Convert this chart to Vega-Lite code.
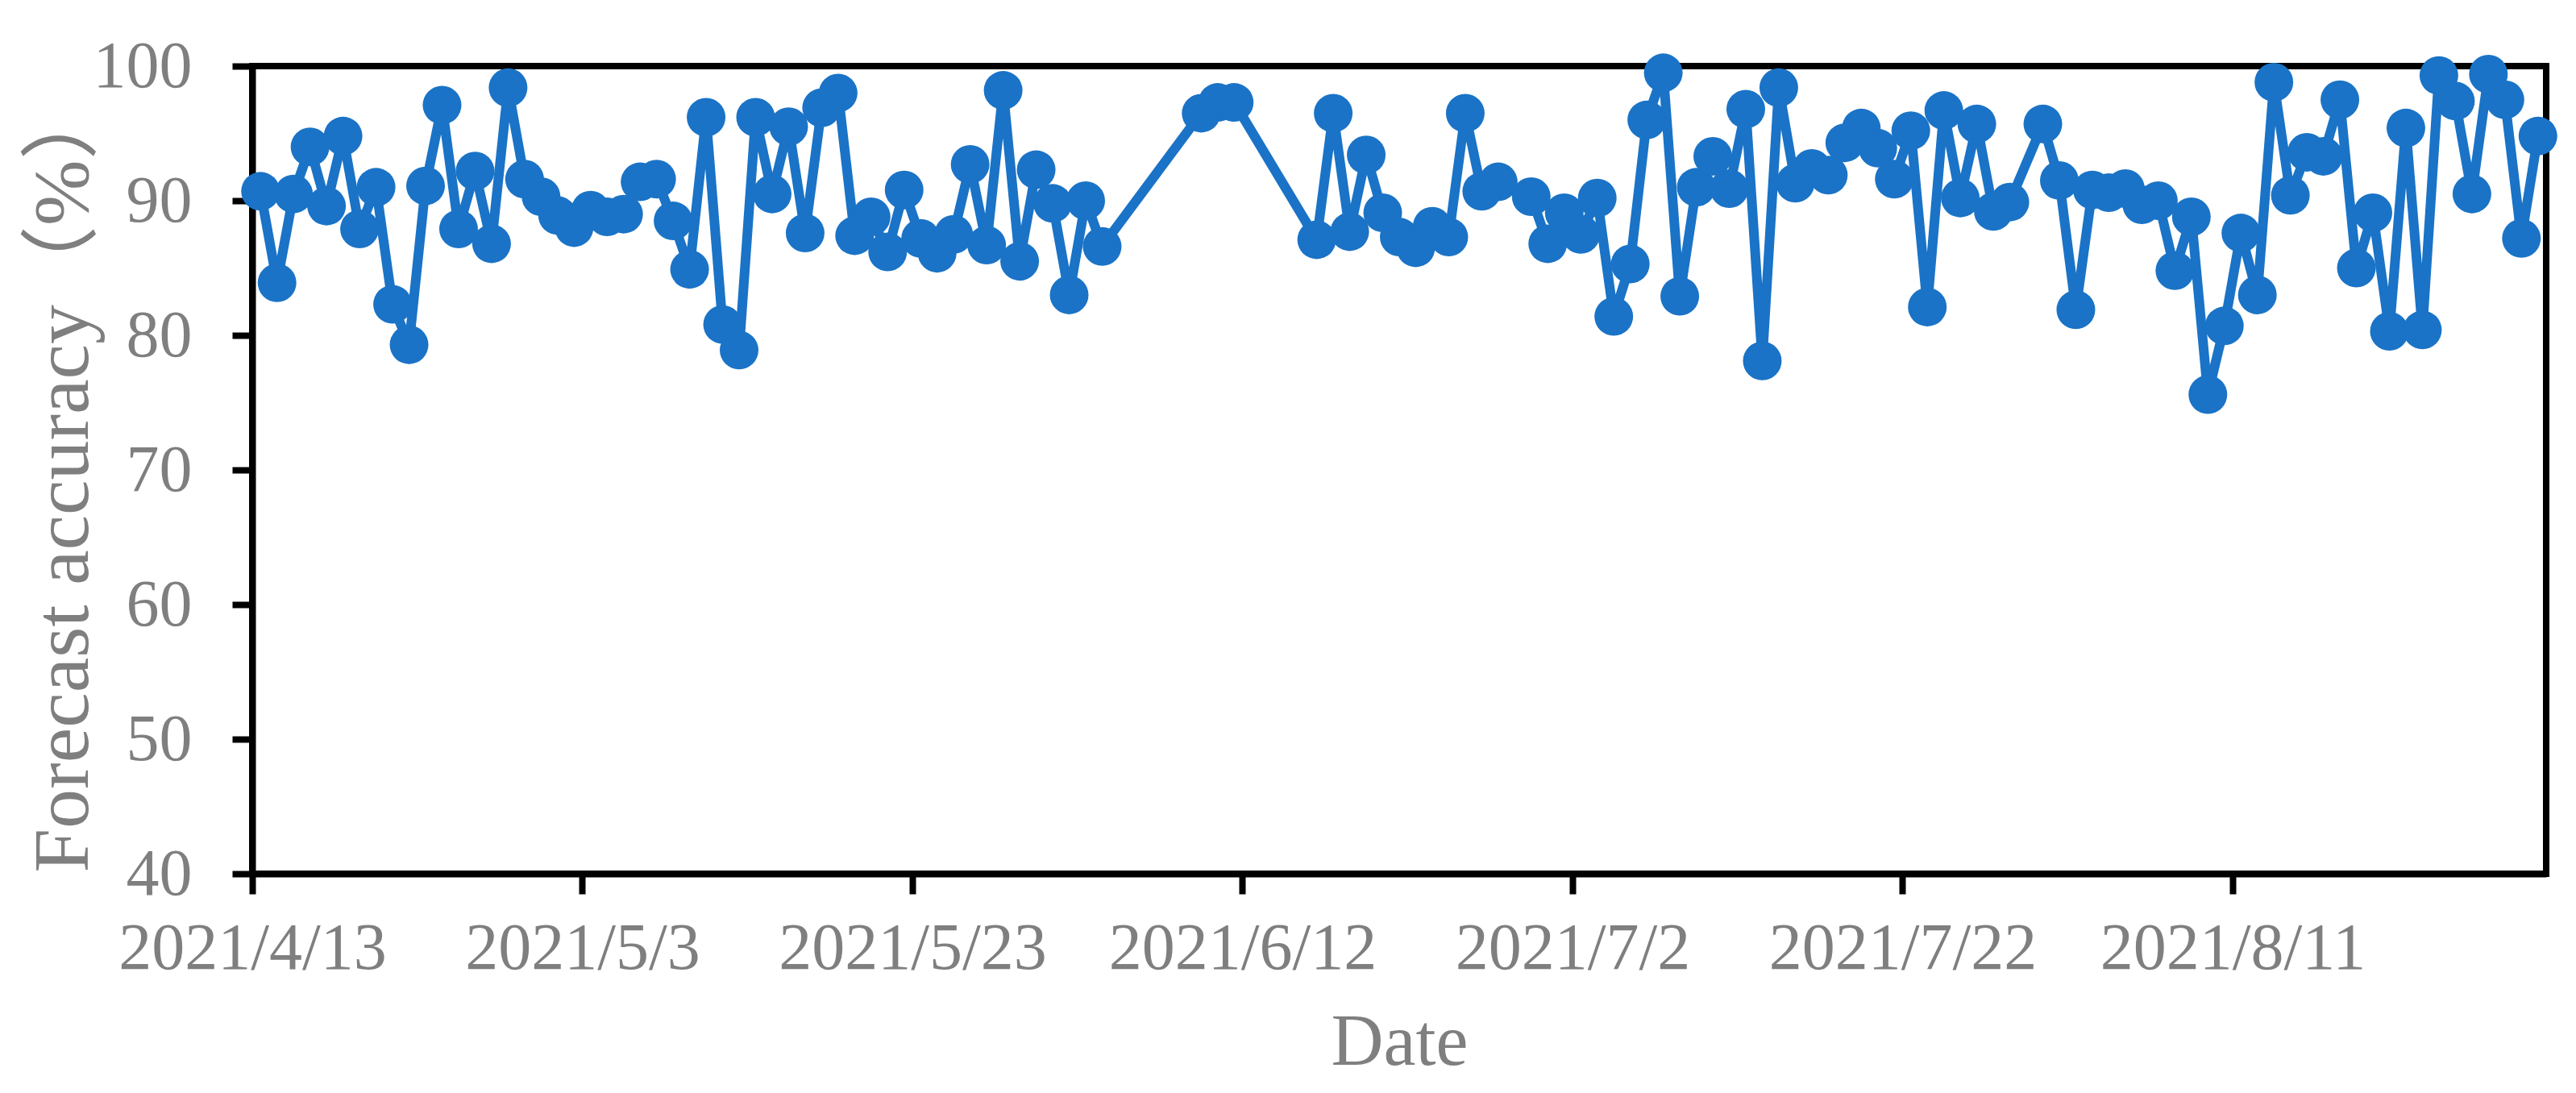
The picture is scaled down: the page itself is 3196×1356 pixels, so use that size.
{
  "$schema": "https://vega.github.io/schema/vega-lite/v6.json",
  "autosize": {"type": "none"},
  "width": 2846,
  "height": 1002,
  "padding": {"left": 313, "top": 82, "right": 37, "bottom": 272},
  "background": "white",
  "config": {
    "view": {"stroke": "black", "strokeWidth": 8},
    "axis": {
      "labelFont": "Liberation Serif",
      "titleFont": "Liberation Serif, Noto Sans CJK SC",
      "labelColor": "#7f7f7f",
      "titleColor": "#7f7f7f",
      "labelFontSize": 82,
      "titleFontSize": 90,
      "titleFontWeight": "normal",
      "labelLimit": 0,
      "titleLimit": 0,
      "domainColor": "black",
      "domainWidth": 8,
      "tickColor": "black",
      "tickWidth": 8,
      "tickSize": 25,
      "grid": false
    }
  },
  "data": {
    "values": [
      {"date": "2021/4/13", "accuracy": 90.7},
      {"date": "2021/4/14", "accuracy": 83.9},
      {"date": "2021/4/15", "accuracy": 90.5},
      {"date": "2021/4/16", "accuracy": 94.0},
      {"date": "2021/4/17", "accuracy": 89.6},
      {"date": "2021/4/18", "accuracy": 94.8},
      {"date": "2021/4/19", "accuracy": 87.9},
      {"date": "2021/4/20", "accuracy": 91.0},
      {"date": "2021/4/21", "accuracy": 82.3},
      {"date": "2021/4/22", "accuracy": 79.3},
      {"date": "2021/4/23", "accuracy": 91.1},
      {"date": "2021/4/24", "accuracy": 97.1},
      {"date": "2021/4/25", "accuracy": 87.9},
      {"date": "2021/4/26", "accuracy": 92.2},
      {"date": "2021/4/27", "accuracy": 86.8},
      {"date": "2021/4/28", "accuracy": 98.4},
      {"date": "2021/4/29", "accuracy": 91.6},
      {"date": "2021/4/30", "accuracy": 90.3},
      {"date": "2021/5/1", "accuracy": 88.9},
      {"date": "2021/5/2", "accuracy": 88.0},
      {"date": "2021/5/3", "accuracy": 89.3},
      {"date": "2021/5/4", "accuracy": 88.8},
      {"date": "2021/5/5", "accuracy": 89.0},
      {"date": "2021/5/6", "accuracy": 91.4},
      {"date": "2021/5/7", "accuracy": 91.6},
      {"date": "2021/5/8", "accuracy": 88.5},
      {"date": "2021/5/9", "accuracy": 84.9},
      {"date": "2021/5/10", "accuracy": 96.2},
      {"date": "2021/5/11", "accuracy": 80.8},
      {"date": "2021/5/12", "accuracy": 78.9},
      {"date": "2021/5/13", "accuracy": 96.2},
      {"date": "2021/5/14", "accuracy": 90.5},
      {"date": "2021/5/15", "accuracy": 95.5},
      {"date": "2021/5/16", "accuracy": 87.6},
      {"date": "2021/5/17", "accuracy": 96.9},
      {"date": "2021/5/18", "accuracy": 98.0},
      {"date": "2021/5/19", "accuracy": 87.4},
      {"date": "2021/5/20", "accuracy": 88.8},
      {"date": "2021/5/21", "accuracy": 86.2},
      {"date": "2021/5/22", "accuracy": 90.8},
      {"date": "2021/5/23", "accuracy": 87.2},
      {"date": "2021/5/24", "accuracy": 86.1},
      {"date": "2021/5/25", "accuracy": 87.5},
      {"date": "2021/5/26", "accuracy": 92.7},
      {"date": "2021/5/27", "accuracy": 86.7},
      {"date": "2021/5/28", "accuracy": 98.2},
      {"date": "2021/5/29", "accuracy": 85.5},
      {"date": "2021/5/30", "accuracy": 92.3},
      {"date": "2021/5/31", "accuracy": 89.8},
      {"date": "2021/6/1", "accuracy": 83.0},
      {"date": "2021/6/2", "accuracy": 90.0},
      {"date": "2021/6/3", "accuracy": 86.6},
      {"date": "2021/6/9", "accuracy": 96.5},
      {"date": "2021/6/10", "accuracy": 97.3},
      {"date": "2021/6/11", "accuracy": 97.3},
      {"date": "2021/6/16", "accuracy": 87.1},
      {"date": "2021/6/17", "accuracy": 96.5},
      {"date": "2021/6/18", "accuracy": 87.7},
      {"date": "2021/6/19", "accuracy": 93.4},
      {"date": "2021/6/20", "accuracy": 89.1},
      {"date": "2021/6/21", "accuracy": 87.3},
      {"date": "2021/6/22", "accuracy": 86.5},
      {"date": "2021/6/23", "accuracy": 88.1},
      {"date": "2021/6/24", "accuracy": 87.3},
      {"date": "2021/6/25", "accuracy": 96.5},
      {"date": "2021/6/26", "accuracy": 90.7},
      {"date": "2021/6/27", "accuracy": 91.4},
      {"date": "2021/6/29", "accuracy": 90.3},
      {"date": "2021/6/30", "accuracy": 86.8},
      {"date": "2021/7/1", "accuracy": 89.1},
      {"date": "2021/7/2", "accuracy": 87.5},
      {"date": "2021/7/3", "accuracy": 90.2},
      {"date": "2021/7/4", "accuracy": 81.4},
      {"date": "2021/7/5", "accuracy": 85.3},
      {"date": "2021/7/6", "accuracy": 96.0},
      {"date": "2021/7/7", "accuracy": 99.5},
      {"date": "2021/7/8", "accuracy": 82.9},
      {"date": "2021/7/9", "accuracy": 91.0},
      {"date": "2021/7/10", "accuracy": 93.3},
      {"date": "2021/7/11", "accuracy": 90.9},
      {"date": "2021/7/12", "accuracy": 96.8},
      {"date": "2021/7/13", "accuracy": 78.1},
      {"date": "2021/7/14", "accuracy": 98.4},
      {"date": "2021/7/15", "accuracy": 91.3},
      {"date": "2021/7/16", "accuracy": 92.4},
      {"date": "2021/7/17", "accuracy": 91.9},
      {"date": "2021/7/18", "accuracy": 94.3},
      {"date": "2021/7/19", "accuracy": 95.4},
      {"date": "2021/7/20", "accuracy": 93.9},
      {"date": "2021/7/21", "accuracy": 91.6},
      {"date": "2021/7/22", "accuracy": 95.2},
      {"date": "2021/7/23", "accuracy": 82.1},
      {"date": "2021/7/24", "accuracy": 96.7},
      {"date": "2021/7/25", "accuracy": 90.2},
      {"date": "2021/7/26", "accuracy": 95.7},
      {"date": "2021/7/27", "accuracy": 89.2},
      {"date": "2021/7/28", "accuracy": 89.9},
      {"date": "2021/7/30", "accuracy": 95.7},
      {"date": "2021/7/31", "accuracy": 91.5},
      {"date": "2021/8/1", "accuracy": 81.9},
      {"date": "2021/8/2", "accuracy": 90.8},
      {"date": "2021/8/3", "accuracy": 90.6},
      {"date": "2021/8/4", "accuracy": 90.9},
      {"date": "2021/8/5", "accuracy": 89.7},
      {"date": "2021/8/6", "accuracy": 90.0},
      {"date": "2021/8/7", "accuracy": 84.8},
      {"date": "2021/8/8", "accuracy": 88.8},
      {"date": "2021/8/9", "accuracy": 75.6},
      {"date": "2021/8/10", "accuracy": 80.7},
      {"date": "2021/8/11", "accuracy": 87.6},
      {"date": "2021/8/12", "accuracy": 83.0},
      {"date": "2021/8/13", "accuracy": 98.8},
      {"date": "2021/8/14", "accuracy": 90.4},
      {"date": "2021/8/15", "accuracy": 93.6},
      {"date": "2021/8/16", "accuracy": 93.3},
      {"date": "2021/8/17", "accuracy": 97.5},
      {"date": "2021/8/18", "accuracy": 85.0},
      {"date": "2021/8/19", "accuracy": 89.1},
      {"date": "2021/8/20", "accuracy": 80.3},
      {"date": "2021/8/21", "accuracy": 95.4},
      {"date": "2021/8/22", "accuracy": 80.4},
      {"date": "2021/8/23", "accuracy": 99.3},
      {"date": "2021/8/24", "accuracy": 97.4},
      {"date": "2021/8/25", "accuracy": 90.5},
      {"date": "2021/8/26", "accuracy": 99.4},
      {"date": "2021/8/27", "accuracy": 97.5},
      {"date": "2021/8/28", "accuracy": 87.2},
      {"date": "2021/8/29", "accuracy": 94.8}
    ]
  },
  "encoding": {
    "x": {
      "field": "date",
      "timeUnit": "yearmonthdate",
      "type": "temporal",
      "bandPosition": 0.5,
      "scale": {
        "domain": [{"year": 2021, "month": 4, "date": 13}, {"year": 2021, "month": 8, "date": 30}],
        "nice": false
      },
      "axis": {
        "title": "Date",
        "format": "%Y/%-m/%-d",
        "values": [
          {"year": 2021, "month": 4, "date": 13},
          {"year": 2021, "month": 5, "date": 3},
          {"year": 2021, "month": 5, "date": 23},
          {"year": 2021, "month": 6, "date": 12},
          {"year": 2021, "month": 7, "date": 2},
          {"year": 2021, "month": 7, "date": 22},
          {"year": 2021, "month": 8, "date": 11}
        ],
        "labelPadding": 27,
        "labelFlush": false,
        "labelOverlap": false,
        "labelAngle": 0,
        "titleBaseline": "alphabetic",
        "titleY": 236
      }
    },
    "y": {
      "field": "accuracy",
      "type": "quantitative",
      "scale": {"domain": [40, 100], "nice": false, "zero": false},
      "axis": {
        "title": "Forecast accuracy（%）",
        "values": [40, 50, 60, 70, 80, 90, 100],
        "labelPadding": 50,
        "titleAngle": -90,
        "titleAlign": "left",
        "titleBaseline": "alphabetic",
        "titleFontSize": 98,
        "titleX": -205,
        "titleY": 1000
      }
    }
  },
  "layer": [
    {"mark": {"type": "line", "color": "#1a73c6", "strokeWidth": 12}},
    {"mark": {"type": "point", "shape": "circle", "filled": true, "opacity": 1, "color": "#1a73c6", "size": 2304}}
  ]
}
